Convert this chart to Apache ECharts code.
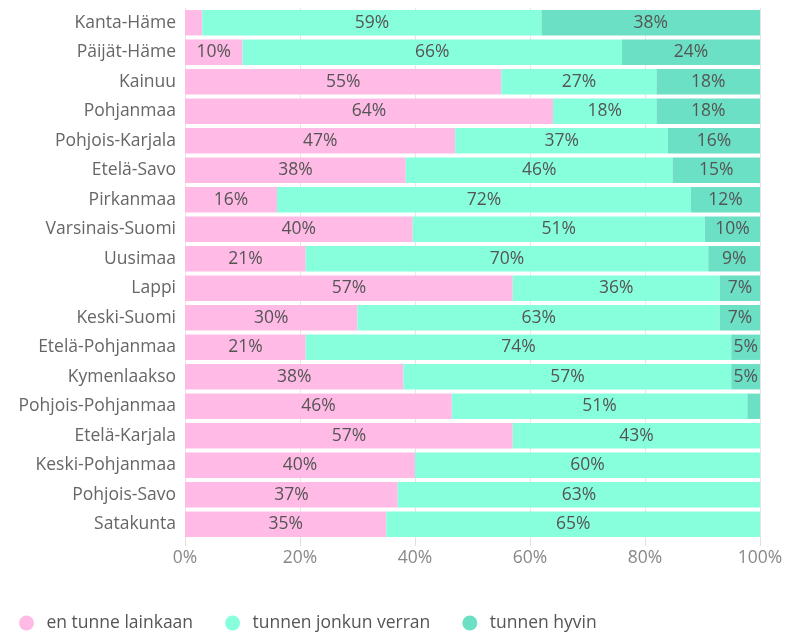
<!DOCTYPE html>
<html>
<head>
<meta charset="utf-8">
<script src="https://cdn.jsdelivr.net/npm/echarts@6/dist/echarts.min.js"></script>
<style>
html, body { margin: 0; padding: 0; background: #fff; }
#main { width: 790px; height: 635px; }
</style>
</head>
<body>
<div id="main"></div>
<script>
var regions = ['Kanta-Häme', 'Päijät-Häme', 'Kainuu', 'Pohjanmaa', 'Pohjois-Karjala', 'Etelä-Savo',
    'Pirkanmaa', 'Varsinais-Suomi', 'Uusimaa', 'Lappi', 'Keski-Suomi', 'Etelä-Pohjanmaa',
    'Kymenlaakso', 'Pohjois-Pohjanmaa', 'Etelä-Karjala', 'Keski-Pohjanmaa', 'Pohjois-Savo', 'Satakunta'];
var enTunne = [3, 10, 55, 64, 47, 38.4, 16, 39.6, 21, 57, 30, 21, 38, 46.4, 57, 40, 37, 35];
var jonkunVerran = [59, 66, 27, 18, 37, 46.4, 72, 50.8, 70, 36, 63, 74, 57, 51.4, 43, 60, 63, 65];
var hyvin = [38, 24, 18, 18, 16, 15.2, 12, 9.6, 9, 7, 7, 5, 5, 2.2, 0, 0, 0, 0];
var seriesNames = ['en tunne lainkaan', 'tunnen jonkun verran', 'tunnen hyvin'];
var colors = ['#ffbbe6', '#87ffdd', '#6be0c4'];

var font = '"Open Sans", sans-serif';
var fs = 17.5;

function barLabel(p) {
    if (p.value < 4) return '';
    return Math.round(p.value) + '%';
}

function makeSeries(name, data) {
    return {
        name: name,
        type: 'bar',
        stack: 'total',
        barCategoryGap: '14%',
        data: data,
        label: {
            show: true,
            position: 'inside',
            formatter: barLabel,
            color: '#555',
            fontFamily: font,
            fontSize: fs
        },
        emphasis: { disabled: true }
    };
}

var myChart = echarts.init(document.getElementById('main'));
myChart.setOption({
    color: colors,
    animation: false,
    grid: { left: 185, right: 30, top: 8, bottom: 96 },
    legend: {
        left: 14,
        top: 609,
        icon: 'circle',
        itemWidth: 30,
        itemHeight: 15,
        itemGap: 32,
        textStyle: { color: '#555', fontFamily: font, fontSize: fs },
        data: seriesNames
    },
    xAxis: {
        type: 'value',
        min: 0,
        max: 100,
        interval: 20,
        axisLine: { show: false },
        axisTick: { show: true, length: 7, lineStyle: { color: '#e0e0e0' } },
        splitLine: { show: true, lineStyle: { color: '#e6e6e6' } },
        axisLabel: {
            formatter: '{value}%',
            color: '#888',
            fontFamily: font,
            fontSize: fs,
            margin: 10
        }
    },
    yAxis: {
        type: 'category',
        inverse: true,
        data: regions,
        axisLine: { show: false },
        axisTick: { show: false },
        axisLabel: {
            color: '#666',
            fontFamily: font,
            fontSize: fs,
            margin: 9
        }
    },
    series: [
        makeSeries(seriesNames[0], enTunne),
        makeSeries(seriesNames[1], jonkunVerran),
        makeSeries(seriesNames[2], hyvin)
    ]
});
</script>
</body>
</html>
